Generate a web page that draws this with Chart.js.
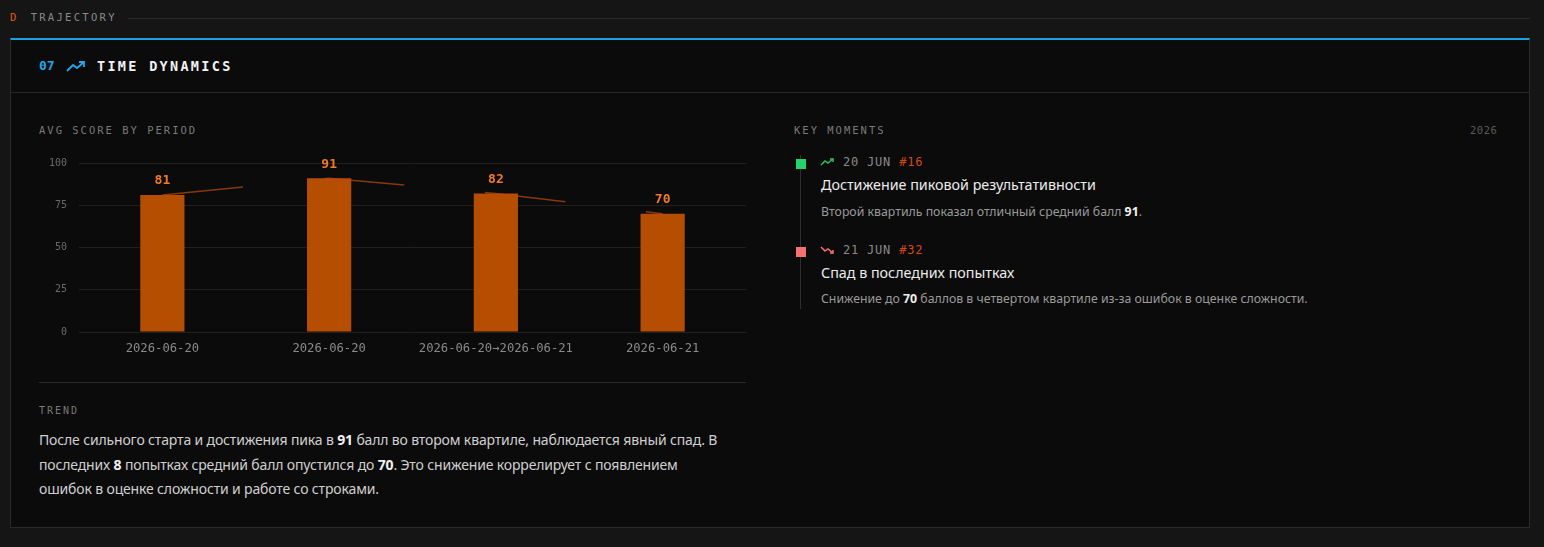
<!DOCTYPE html>
<html>
<head>
<meta charset="utf-8">
<script src="https://cdn.jsdelivr.net/npm/chart.js@4"></script>
<style>
  html, body { margin: 0; padding: 0; }
  body { width: 1544px; height: 547px; background: #151515; position: relative; overflow: hidden;
         font-family: "Noto Sans", sans-serif; color: #d4d4d4; }
  .mono { font-family: "DejaVu Sans Mono", monospace; }
  .abs { position: absolute; white-space: nowrap; }
  #sec { left: 10px; top: 11px; font-size: 10.5px; letter-spacing: 2.3px; color: #8a8a8a; }
  #sec b { color: #e8590c; font-weight: normal; margin-right: 12px; }
  #secLine { left: 128px; top: 18px; width: 1402px; height: 1px; background: #2a2a2a; }
  #panel { left: 10px; top: 38px; width: 1518px; height: 487px; background: #0b0b0b;
           border: 1px solid #2a2a2a; border-top: 2px solid #16a3e0; }
  #hdrLine { left: 11px; top: 92px; width: 1518px; height: 1px; background: #262626; }
  #num { left: 39px; top: 58px; font-size: 13px; font-weight: bold; color: #1ea7ea; }
  #icon { left: 66px; top: 59px; }
  #title { left: 97px; top: 58px; font-size: 13.5px; font-weight: bold; color: #f2f2f2; letter-spacing: 2.3px; }
  .lbl { font-size: 10.5px; letter-spacing: 2px; color: #7a7a7a; }
  #chartBox { left: 39px; top: 145px; width: 707px; height: 217px; }
  #divider { left: 39px; top: 382px; width: 707px; height: 1px; background: #2a2a2a; }
  #trend { left: 39px; top: 428px; width: 688px; font-size: 14px; letter-spacing: -0.15px; line-height: 24.5px; color: #d0d0d0; white-space: normal; }
  #trend b, .desc b { color: #f0f0f0; }
  #tl { left: 800px; top: 155px; width: 1px; height: 154px; background: #2e2e2e; }
  .sq { width: 10px; height: 10px; }
  .date { font-size: 12px; letter-spacing: 0.8px; color: #8a8a8a; }
  .date span { color: #d9480f; }
  .ttl { font-size: 14.3px; color: #ececec; }
  .desc { font-size: 12.3px; color: #9a9a9a; }
</style>
</head>
<body>
<div id="sec" class="abs mono"><b>D</b>TRAJECTORY</div>
<div id="secLine" class="abs"></div>
<div id="panel" class="abs"></div>
<div id="hdrLine" class="abs"></div>
<div id="num" class="abs mono">07</div>
<svg id="icon" class="abs" width="20" height="14" viewBox="0 0 20 14">
  <polyline points="1,12 7,6 11,9 18,3" fill="none" stroke="#1ea7ea" stroke-width="1.8"/>
  <polyline points="13,3 18,3 18,8" fill="none" stroke="#1ea7ea" stroke-width="1.8"/>
</svg>
<div id="title" class="abs mono">TIME DYNAMICS</div>

<div class="abs mono lbl" style="left:39px;top:124px;">AVG SCORE BY PERIOD</div>
<div id="chartBox" class="abs"><canvas id="avg"></canvas></div>
<div id="divider" class="abs"></div>
<div class="abs mono lbl" style="left:39px;top:405px;font-size:10px;">TREND</div>
<div id="trend" class="abs">После сильного старта и достижения пика в <b>91</b> балл во втором квартиле, наблюдается явный спад. В последних <b>8</b> попытках средний балл опустился до <b>70</b>. Это снижение коррелирует с появлением ошибок в оценке сложности и работе со строками.</div>

<div class="abs mono lbl" style="left:794px;top:124px;">KEY MOMENTS</div>
<div class="abs mono lbl" style="left:1470px;top:124px;letter-spacing:0.5px;color:#5a5a5a;">2026</div>
<div id="tl" class="abs"></div>

<div class="abs sq" style="left:796px;top:159px;background:#22d46b;"></div>
<svg class="abs" style="left:820px;top:157px;" width="16" height="10" viewBox="0 0 16 10">
  <polyline points="1,8 5,4 8,6 13,2" fill="none" stroke="#22c55e" stroke-width="1.5"/>
  <polyline points="10,2 13,2 13,5" fill="none" stroke="#22c55e" stroke-width="1.5"/>
</svg>
<div class="abs mono date" style="left:843px;top:155px;">20 JUN <span>#16</span></div>
<div class="abs ttl" style="left:821px;top:175px;">Достижение пиковой результативности</div>
<div class="abs desc" style="left:821px;top:203px;">Второй квартиль показал отличный средний балл <b>91</b>.</div>

<div class="abs sq" style="left:796px;top:247px;background:#f87171;"></div>
<svg class="abs" style="left:820px;top:245px;" width="16" height="10" viewBox="0 0 16 10">
  <polyline points="1,2 5,6 8,4 13,8" fill="none" stroke="#f87171" stroke-width="1.5"/>
  <polyline points="10,8 13,8 13,5" fill="none" stroke="#f87171" stroke-width="1.5"/>
</svg>
<div class="abs mono date" style="left:843px;top:243px;">21 JUN <span>#32</span></div>
<div class="abs ttl" style="left:821px;top:263px;">Спад в последних попытках</div>
<div class="abs desc" style="left:821px;top:290px;">Снижение до <b>70</b> баллов в четвертом квартиле из-за ошибок в оценке сложности.</div>

<script>
const periods = ["2026-06-20", "2026-06-20", "2026-06-20\u21922026-06-21", "2026-06-21"];
const avgScores = [81, 91, 82, 70];
const yTicks = [0, 25, 50, 75, 100];

const mono = "'DejaVu Sans Mono', monospace";

// numbers over each bar
const valueLabels = {
  id: "valueLabels",
  afterDatasetsDraw(chart) {
    const ctx = chart.ctx;
    const meta = chart.getDatasetMeta(1);
    ctx.save();
    ctx.font = "bold 13px " + mono;
    ctx.fillStyle = "#f47a1f";
    ctx.textAlign = "center";
    ctx.textBaseline = "middle";
    meta.data.forEach((bar, i) => {
      ctx.fillText(avgScores[i], bar.x, bar.y - 14);
    });
    ctx.restore();
  },
};

new Chart(document.getElementById("avg"), {
  data: {
    labels: periods,
    datasets: [
      {
        type: "line",
        data: avgScores,
        borderColor: "rgba(190, 75, 14, 0.7)",
        borderWidth: 1.5,
        borderDash: [81, 81],
        pointRadius: 0,
        tension: 0,
        order: 0,
      },
      {
        type: "bar",
        data: avgScores,
        backgroundColor: "#b64e02",
        barPercentage: 0.53,
        categoryPercentage: 0.5,
        order: 1,
      },
    ],
  },
  options: {
    responsive: true,
    maintainAspectRatio: false,
    animation: false,
    layout: { padding: { top: 0, right: 0, left: 0, bottom: 0 } },
    plugins: { legend: { display: false }, tooltip: { enabled: false } },
    scales: {
      x: {
        grid: { display: false, drawTicks: false },
        border: { display: false },
        ticks: { color: "#8a8a8a", font: { family: mono, size: 12.2 }, padding: 10, maxRotation: 0 },
        afterFit(scale) { scale.height = 30; },
      },
      y: {
        min: 0,
        max: 100,
        afterBuildTicks(scale) { scale.ticks = yTicks.map((v) => ({ value: v })); },
        grid: { color: "#202020", drawTicks: false },
        border: { display: false },
        ticks: { color: "#6a6a6a", font: { family: mono, size: 10 }, padding: 12 },
        afterFit(scale) { scale.width = 40; },
      },
    },
  },
  plugins: [valueLabels],
});
</script>
</body>
</html>
